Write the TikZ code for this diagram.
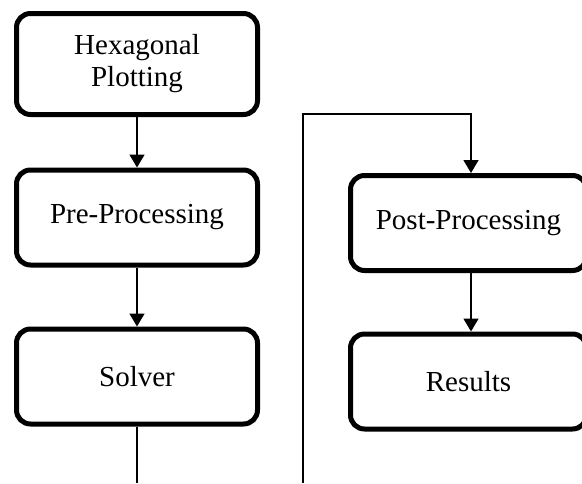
\documentclass[tikz,border=0pt]{standalone}
\usepackage{fontspec}
\setmainfont{Liberation Serif}
\usetikzlibrary{arrows.meta}
\begin{document}
\begin{tikzpicture}[x=1pt,y=-1pt,
  stage/.style={draw=black, line width=5pt, rounded corners=14pt,
    minimum width=241pt, minimum height=95pt, inner sep=0pt,
    align=center, font=\fontsize{29}{32}\selectfont},
  flow/.style={line width=1.5pt, -{Triangle[width=15pt,length=13pt]}},
  plain/.style={line width=1.5pt}]
  \clip (0,0) rectangle (582,483);
  \fill[white] (0,0) rectangle (582,483);

  % left column
  \node[stage, minimum height=101pt] (hex) at (137,64) {Hexagonal\\Plotting};
  \node[stage] (pre) at (137,217.5) {Pre-Processing};
  \node[stage] (sol) at (137,376.5) {Solver};

  % right column, running just past the right edge
  \node[stage, minimum width=236pt] (post) at (468.5,223) {Post-Processing};
  \node[stage, minimum width=236pt] (res) at (468.5,381.5) {Results};

  % free ends of the loop running off the bottom edge
  \coordinate (solout) at (137,483);
  \coordinate (postin) at (303,483);
  \coordinate (top) at (471,114);

  \draw[flow] (hex) -- (pre);
  \draw[flow] (pre) -- (sol);
  \draw[plain] (sol) -- (solout);
  \draw[flow] (postin) |- (top) -- (top |- post.north);
  \draw[flow] (post.south -| top) -- (res.north -| top);
\end{tikzpicture}
\end{document}
